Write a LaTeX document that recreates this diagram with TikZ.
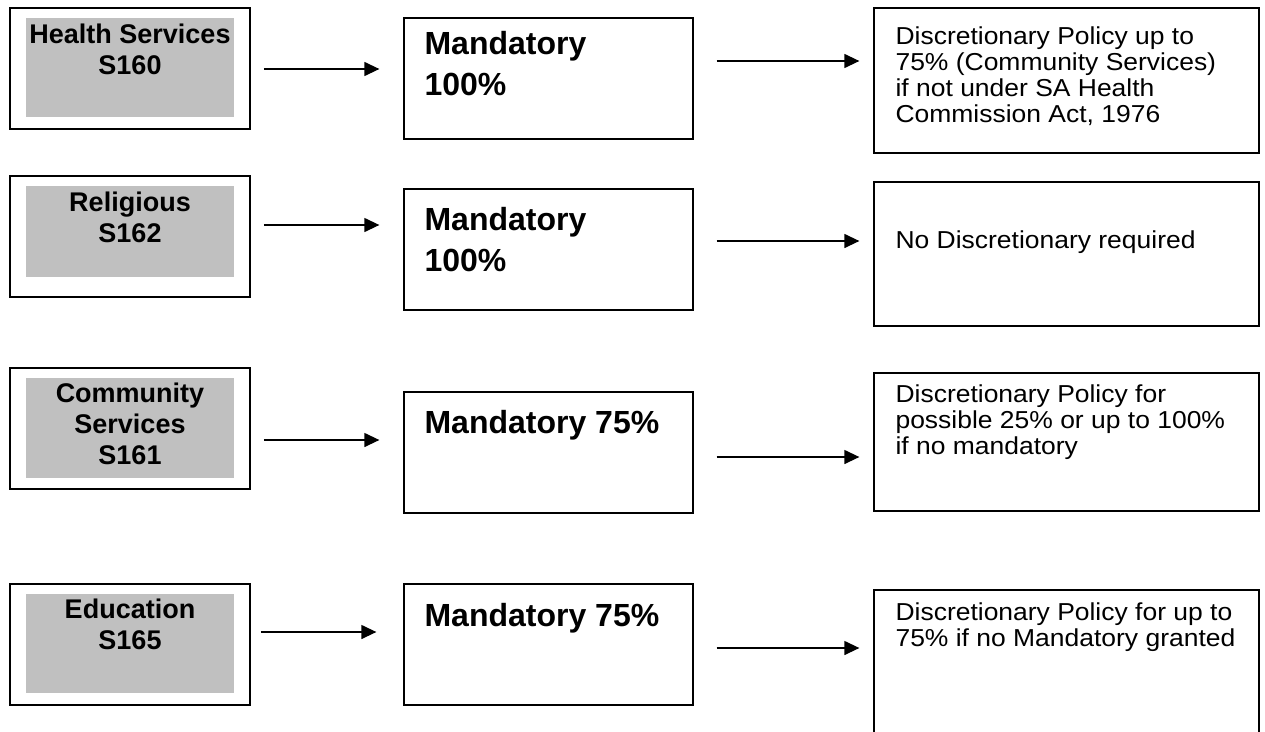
\documentclass[tikz,border=0pt]{standalone}
\usepackage{fontspec}
\setmainfont{Liberation Sans}
\newfontfamily\widefont[FakeStretch=1.08]{Liberation Sans}
\usetikzlibrary{arrows.meta, positioning}
\definecolor{silver}{HTML}{C0C0C0}

\begin{document}
\begin{tikzpicture}[
    x=1pt, y=-1pt,
    cat/.style={draw, line width=1.6pt, minimum width=240pt, minimum height=121pt, inner sep=0pt},
    shade/.style={fill=silver, minimum width=208pt, minimum height=99pt, inner sep=0pt},
    catname/.style={anchor=north, inner sep=0pt, align=center, font=\fontsize{27}{31}\selectfont\bfseries},
    mand/.style={draw, line width=1.3pt, minimum width=289pt, minimum height=121pt, inner sep=0pt},
    mandtxt/.style={inner sep=0pt, align=left, font=\fontsize{32}{41}\selectfont\bfseries},
    disc/.style={draw, line width=1.3pt, minimum width=385pt, inner sep=0pt},
    disctxt/.style={inner sep=0pt, align=left, font=\widefont\fontsize{24.5}{26}\selectfont},
    ar/.style={-{Triangle[length=15pt, width=14pt]}, line width=1.3pt}
]
\useasboundingbox (0,0) rectangle (1265,731);
\clip (0,0) rectangle (1265,731);
% row 1: health services
\node[cat] (hs) at (130,68.5) {};
\node[shade, below=11pt of hs.north] (hsg) {};
\node[catname, below=6pt of hsg.north] (hsn) {Health Services\\S160};
\node[mand] (m1) at (548.5,78.5) {};
\node[mandtxt, below right=14pt and 21pt of m1.north west] (m1t) {Mandatory\\100\%};
\node[disc, minimum height=145pt] (d1) at (1066.5,80.5) {};
\node[disctxt, below right=19pt and 22pt of d1.north west] (d1t) {Discretionary Policy up to\\75\% (Community Services)\\if not under SA Health\\Commission Act, 1976};
% row 2: religious
\node[cat] (rel) at (130,236.5) {};
\node[shade, minimum height=91pt, below=11pt of rel.north] (relg) {};
\node[catname, below=6pt of relg.north] (reln) {Religious\\S162};
\node[mand] (m2) at (548.5,249.5) {};
\node[mandtxt, below right=19pt and 21pt of m2.north west] (m2t) {Mandatory\\100\%};
\node[disc, minimum height=144pt] (d2) at (1066.5,254) {};
\node[disctxt, below right=49pt and 22pt of d2.north west] (d2t) {No Discretionary required};
% row 3: community services
\node[cat] (com) at (130,428.5) {};
\node[shade, minimum height=100pt, below=11pt of com.north] (comg) {};
\node[catname, below=5pt of comg.north] (comn) {Community\\Services\\S161};
\node[mand] (m3) at (548.5,452.5) {};
\node[mandtxt, below right=19pt and 21pt of m3.north west] (m3t) {Mandatory 75\%};
\node[disc, minimum height=138pt] (d3) at (1066.5,442) {};
\node[disctxt, below right=12pt and 22pt of d3.north west] (d3t) {Discretionary Policy for\\possible 25\% or up to 100\%\\if no mandatory};
% row 4: education
\node[cat] (edu) at (130,644.5) {};
\node[shade, below=11pt of edu.north] (edug) {};
\node[catname, below=5pt of edug.north] (edun) {Education\\S165};
\node[mand] (m4) at (548.5,644.5) {};
\node[mandtxt, below right=20pt and 21pt of m4.north west] (m4t) {Mandatory 75\%};
\node[disc, minimum height=170pt] (d4) at (1066.5,675) {};
\node[disctxt, below right=13pt and 22pt of d4.north west] (d4t) {Discretionary Policy for up to\\75\% if no Mandatory granted};
% arrows
\draw[ar, shorten <=13pt, shorten >=24pt] ([yshift=-0.5pt]hs.east) -- ([yshift=-0.5pt]hs.east -| m1.west);
\draw[ar, shorten <=23pt, shorten >=14pt] ([yshift=17.5pt]m1.east) -- ([yshift=17.5pt]m1.east -| d1.west);
\draw[ar, shorten <=13pt, shorten >=24pt] ([yshift=11.5pt]rel.east) -- ([yshift=11.5pt]rel.east -| m2.west);
\draw[ar, shorten <=23pt, shorten >=14pt] ([yshift=8.5pt]m2.east) -- ([yshift=8.5pt]m2.east -| d2.west);
\draw[ar, shorten <=13pt, shorten >=24pt] ([yshift=-11.5pt]com.east) -- ([yshift=-11.5pt]com.east -| m3.west);
\draw[ar, shorten <=23pt, shorten >=14pt] ([yshift=-4.5pt]m3.east) -- ([yshift=-4.5pt]m3.east -| d3.west);
\draw[ar, shorten <=10pt, shorten >=27pt] ([yshift=12.5pt]edu.east) -- ([yshift=12.5pt]edu.east -| m4.west);
\draw[ar, shorten <=23pt, shorten >=14pt] ([yshift=-3.5pt]m4.east) -- ([yshift=-3.5pt]m4.east -| d4.west);
\end{tikzpicture}
\end{document}
